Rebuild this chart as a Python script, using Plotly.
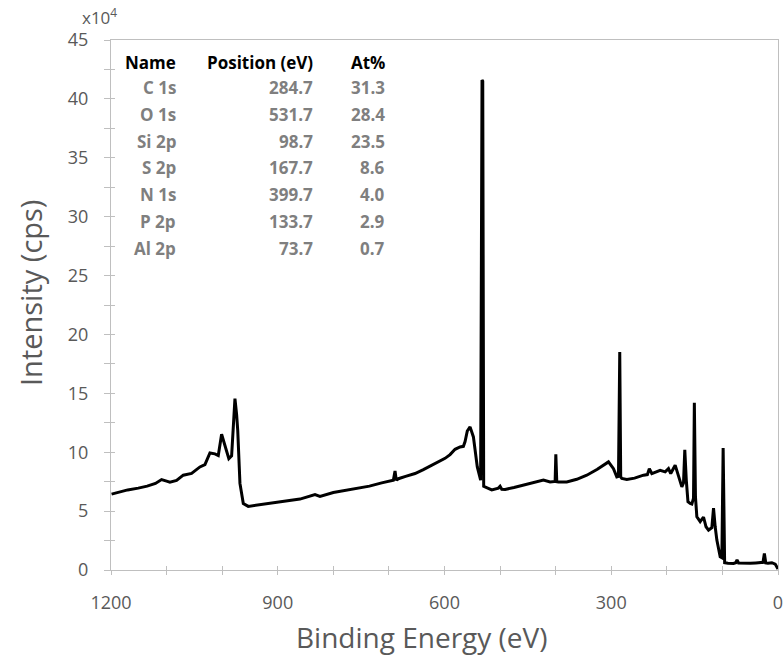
import plotly.graph_objects as go

# Survey spectrum (binding energy in eV, intensity in units of 10^4 cps)
energy = [
    1199, 1185, 1170, 1151, 1135, 1120, 1109, 1100, 1094, 1082, 1070, 1055,
    1048, 1040, 1031, 1022, 1013, 1007, 1001, 995, 988, 983, 979, 977,
    974, 972, 968, 962, 953, 935, 905, 887, 860, 833, 824, 800, 780, 755,
    735, 713, 692, 689, 687, 685, 683, 670, 653, 638, 623, 610, 599, 590,
    581, 572, 566, 563, 559, 554, 548, 541, 535, 532.5, 531.2, 529.5, 524,
    515, 503, 500, 497, 491, 475, 458, 440, 422, 410, 401, 399.7, 398,
    395, 380, 362, 344, 325, 305, 296, 290, 287, 284.7, 283, 281, 272,
    258, 242, 235, 231.5, 227, 212, 203, 197, 193, 185, 179, 173, 170,
    167.7, 165, 162, 158, 155, 152, 150.5, 148.5, 146, 140, 134, 129.5,
    125, 119, 116, 113, 110, 104, 101, 98.7, 96, 90, 80, 76, 73.7, 71,
    60, 50, 40, 32, 27, 24.5, 22, 18, 11, 5, 0
]
intensity = [
    6.44, 6.62, 6.80, 6.95, 7.12, 7.35, 7.68, 7.55, 7.46, 7.60, 8.05, 8.20,
    8.45, 8.75, 8.95, 9.94, 9.86, 9.72, 11.53, 10.60, 9.46, 9.70, 12.40, 14.55,
    13.20, 11.86, 7.35, 5.65, 5.40, 5.52, 5.71, 5.80, 6.02, 6.40, 6.25, 6.58, 6.76, 6.93,
    7.12, 7.40, 7.62, 8.40, 7.70, 7.68, 7.75, 7.95, 8.19, 8.52, 8.90, 9.25, 9.48, 9.80,
    10.25, 10.45, 10.50, 10.90, 11.80, 12.15, 11.30, 8.75, 7.63, 41.60, 41.50, 7.10, 7.01,
    6.80, 6.95, 7.10, 6.85, 6.84, 7.00, 7.20, 7.45, 7.63, 7.48, 7.52, 9.83, 7.50,
    7.48, 7.48, 7.70, 8.05, 8.55, 9.18, 8.60, 7.91, 7.95, 18.50, 7.90, 7.77, 7.68,
    7.80, 8.05, 8.10, 8.61, 8.19, 8.47, 8.33, 8.61, 8.19, 8.90, 8.05, 7.06, 7.40,
    10.20, 7.63, 5.80, 5.65, 5.60, 6.10, 14.20, 6.20, 4.52, 4.10, 4.50, 3.67,
    3.39, 3.60, 5.25, 3.67, 2.54, 1.13, 1.05, 10.35, 0.62, 0.58, 0.56, 0.62, 0.85, 0.60,
    0.57, 0.57, 0.60, 0.62, 0.65, 1.41, 0.60, 0.57, 0.62, 0.50, 0.08
]

# Quantification table
peak_names = ["C 1s", "O 1s", "Si 2p", "S 2p", "N 1s", "P 2p", "Al 2p"]
peak_positions = ["284.7", "531.7", "98.7", "167.7", "399.7", "133.7", "73.7"]
atomic_pct = ["31.3", "28.4", "23.5", "8.6", "4.0", "2.9", "0.7"]
table_header = ["Name", "Position (eV)", "At%"]

x_ticks = list(range(0, 1201, 100))
x_ticktext = [str(v) if v % 300 == 0 else "" for v in x_ticks]
y_ticks = [i * 2.5 for i in range(19)]
y_ticktext = [str(int(v)) if v % 5 == 0 else "" for v in y_ticks]

W, H = 783, 657
L, R, T, B = 111, 5, 40, 87
plot_w, plot_h = W - L - R, H - T - B


def px_x(p):
    return (p - L) / plot_w


def px_y(p):
    return (H - B - p) / plot_h


axis_grey = "#bfbfbf"
text_grey = "#595959"
font_family = "Open Sans"

fig = go.Figure()
fig.add_trace(go.Scatter(
    x=energy, y=intensity, mode="lines",
    line=dict(color="black", width=3), showlegend=False,
))
# empty trace to carry the overlay axes that give the crossing tick marks
fig.add_trace(go.Scatter(x=[], y=[], xaxis="x2", yaxis="y2", showlegend=False))

common_tick = dict(tickcolor=axis_grey, tickwidth=1, showgrid=False, zeroline=False,
                   automargin=False)

fig.update_layout(
    width=W, height=H,
    margin=dict(l=L, r=R, t=T, b=B),
    paper_bgcolor="white", plot_bgcolor="white",
    font=dict(family=font_family, color=text_grey),
    xaxis=dict(
        range=[1200, 0], tickmode="array", tickvals=x_ticks, ticktext=x_ticktext,
        ticks="outside", ticklen=4, showline=True, linecolor=axis_grey, linewidth=1,
        mirror=True, tickfont=dict(size=18, color=text_grey, family=font_family),
        ticklabelstandoff=12, ticklabeloverflow="allow", **common_tick,
    ),
    yaxis=dict(
        range=[0, 45], tickmode="array", tickvals=y_ticks, ticktext=y_ticktext,
        ticks="outside", ticklen=6, showline=True, linecolor=axis_grey, linewidth=1,
        mirror=True, tickfont=dict(size=18, color=text_grey, family=font_family),
        ticklabelstandoff=12, ticklabeloverflow="allow", **common_tick,
    ),
    xaxis2=dict(
        overlaying="x", matches="x", anchor="y2", tickmode="array", tickvals=x_ticks,
        ticks="inside", ticklen=4, showticklabels=False, showline=False, **common_tick,
    ),
    yaxis2=dict(
        overlaying="y", matches="y", anchor="x2", tickmode="array", tickvals=y_ticks,
        ticks="inside", ticklen=4, showticklabels=False, showline=False, **common_tick,
    ),
)

annotations = [
    dict(text="x10<sup>4</sup>", x=px_x(99), y=px_y(17), xref="paper", yref="paper",
         xanchor="center", yanchor="middle", showarrow=False,
         font=dict(size=17, color=text_grey, family=font_family)),
    dict(text="Intensity (cps)", x=px_x(30), y=px_y(293), xref="paper", yref="paper",
         xanchor="center", yanchor="middle", textangle=-90, showarrow=False,
         font=dict(size=29, color=text_grey, family=font_family)),
    dict(text="Binding Energy (eV)", x=px_x(422), y=px_y(637), xref="paper", yref="paper",
         xanchor="center", yanchor="middle", showarrow=False,
         font=dict(size=28, color=text_grey, family=font_family)),
]

col_right = [178, 315, 387]
header_y = 62
row_y0, row_step = 87.5, 26.8
for txt, cx in zip(table_header, col_right):
    annotations.append(dict(
        text="<b>%s</b>" % txt, x=px_x(cx), y=px_y(header_y), xref="paper", yref="paper",
        xanchor="right", yanchor="middle", showarrow=False,
        font=dict(size=17, color="black", family=font_family)))
for i, row in enumerate(zip(peak_names, peak_positions, atomic_pct)):
    for txt, cx in zip(row, col_right):
        annotations.append(dict(
            text="<b>%s</b>" % txt, x=px_x(cx), y=px_y(row_y0 + i * row_step),
            xref="paper", yref="paper", xanchor="right", yanchor="middle",
            showarrow=False, font=dict(size=17, color="#7f7f7f", family=font_family)))

fig.update_layout(annotations=annotations)
fig.write_html("out.html")
